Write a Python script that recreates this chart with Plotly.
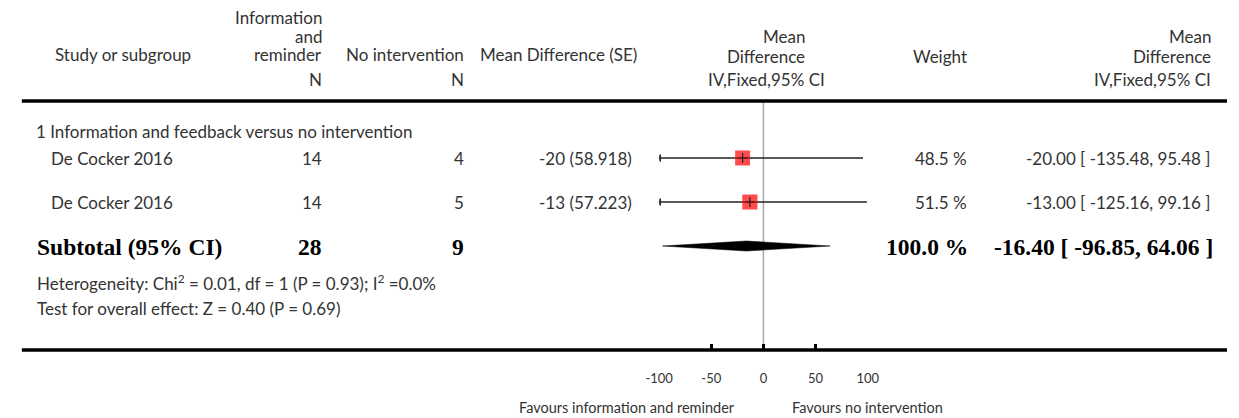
import plotly.graph_objects as go

# ---------------- data ----------------
subgroup_title = "1 Information and feedback versus no intervention"
studies = ["De Cocker 2016", "De Cocker 2016"]
n_treat = [14, 14]
n_ctrl = [4, 5]
md = [-20, -13]
se = [58.918, 57.223]
ci_lo = [-135.48, -125.16]
ci_hi = [95.48, 99.16]
weights = [48.5, 51.5]

sub_n_treat = 28
sub_n_ctrl = 9
sub_md = -16.40
sub_lo = -96.85
sub_hi = 64.06
sub_weight = 100.0

heterogeneity = "Heterogeneity: Chi<sup>2</sup> = 0.01, df = 1 (P = 0.93); I<sup>2</sup> =0.0%"
overall = "Test for overall effect: Z = 0.40 (P = 0.69)"

tick_vals = [-100, -50, 0, 50, 100]
tick_text = ["-100", "-50", "0", "50", "100"]
x_range = [-100, 100]
favours_left = "Favours information and reminder"
favours_right = "Favours no intervention"

# ---------------- layout constants ----------------
W, H = 1239, 418
SANS = "Lato, 'Open Sans', sans-serif"
SERIF = "'Liberation Serif', 'Times New Roman', serif"
TXT = "#333333"
FS = 17

PLOT_L, PLOT_R = 659, 872
ROW_Y = [158, 202]
SUB_Y = 246
TOP_LINE_Y = 101
AXIS_Y = 350


def px(x):
    return x / W


def py(y):
    return 1 - y / H


fig = go.Figure()
annotations = []


def txt(text, x, y, anchor="left", size=FS, family=SANS, bold=False, color=TXT):
    annotations.append(dict(
        text=f"<b>{text}</b>" if bold else text,
        x=px(x), y=py(y), xref="paper", yref="paper",
        xanchor=anchor, yanchor="middle", showarrow=False,
        font=dict(family=family, size=size, color=color),
    ))


# header
txt("Study or subgroup", 40, 55)
txt("Information", 317, 17, "right")
txt("and", 317, 36, "right")
txt("reminder", 317, 55, "right")
txt("No intervention", 462, 55, "right")
txt("N", 317, 79, "right")
txt("N", 462, 79, "right")
txt("Mean Difference (SE)", 638, 55, "right")
txt("Mean", 810, 37, "right")
txt("Difference", 810, 57, "right")
txt("IV,Fixed,95% CI", 830, 79, "right")
txt("Weight", 975, 57, "right")
txt("Mean", 1225, 37, "right")
txt("Difference", 1225, 57, "right")
txt("IV,Fixed,95% CI", 1225, 79, "right")

# subgroup
txt(subgroup_title, 20, 131)
for i, name in enumerate(studies):
    y = ROW_Y[i]
    txt(name, 36, y)
    txt(str(n_treat[i]), 317, y, "right")
    txt(str(n_ctrl[i]), 462, y, "right")
    txt(f"{md[i]} ({se[i]:.3f})", 633, y, "right")
    txt(f"{weights[i]:.1f} %", 975, y, "right")
    txt(f"{md[i]:.2f} [ {ci_lo[i]:.2f}, {ci_hi[i]:.2f} ]", 1225, y, "right")

# subtotal
SUB_FS = 23.5
txt("Subtotal (95% CI)", 21, SUB_Y + 1, size=SUB_FS, family=SERIF, bold=True, color="black")
txt(str(sub_n_treat), 317, SUB_Y + 1, "right", size=SUB_FS, family=SERIF, bold=True, color="black")
txt(str(sub_n_ctrl), 462, SUB_Y + 1, "right", size=SUB_FS, family=SERIF, bold=True, color="black")
txt(f"{sub_weight:.1f} %", 976, SUB_Y + 1, "right", size=SUB_FS, family=SERIF, bold=True, color="black")
txt(f"{sub_md:.2f} [ {sub_lo:.2f}, {sub_hi:.2f} ]", 1227, SUB_Y + 1, "right", size=SUB_FS,
    family=SERIF, bold=True, color="black")
txt(heterogeneity, 21, 282)
txt(overall, 21, 308)

# favours
txt(favours_left, 739, 407, "right", size=14.5)
txt(favours_right, 793, 407, "left", size=14.5)

# ---------------- marks ----------------
for i in range(len(studies)):
    lo = max(ci_lo[i], x_range[0])
    hi = min(ci_hi[i], x_range[1])
    fig.add_trace(go.Scatter(x=[lo, hi], y=[ROW_Y[i], ROW_Y[i]], mode="lines",
                             line=dict(color="#222222", width=1.5), hoverinfo="skip",
                             showlegend=False))
    if ci_lo[i] < x_range[0]:
        fig.add_trace(go.Scatter(x=[x_range[0]], y=[ROW_Y[i]], mode="markers",
                                 marker=dict(symbol="triangle-left", size=7, color="#222222"),
                                 showlegend=False, hoverinfo="skip"))
    if ci_hi[i] > x_range[1]:
        fig.add_trace(go.Scatter(x=[x_range[1]], y=[ROW_Y[i]], mode="markers",
                                 marker=dict(symbol="triangle-right", size=7, color="#222222"),
                                 showlegend=False, hoverinfo="skip"))

sizes = [10 + w * 0.1 for w in weights]
fig.add_trace(go.Scatter(x=md, y=ROW_Y, mode="markers",
                         marker=dict(symbol="square", size=sizes, color="#ff0000",
                                     line=dict(width=0)),
                         showlegend=False, hoverinfo="skip"))
fig.add_trace(go.Scatter(x=md, y=ROW_Y, mode="markers",
                         marker=dict(symbol="cross-thin", size=7,
                                     line=dict(color="#222222", width=1.2)),
                         showlegend=False, hoverinfo="skip"))

fig.add_trace(go.Scatter(x=[sub_lo, sub_md, sub_hi, sub_md, sub_lo],
                         y=[SUB_Y, SUB_Y - 5, SUB_Y, SUB_Y + 5, SUB_Y],
                         mode="lines", fill="toself", fillcolor="black",
                         line=dict(color="black", width=0.5), showlegend=False,
                         hoverinfo="skip"))

# ---------------- shapes ----------------
shapes = [
    dict(type="line", xref="paper", yref="paper", x0=px(8), x1=1, y0=py(TOP_LINE_Y),
         y1=py(TOP_LINE_Y), line=dict(color="black", width=3.5)),
    dict(type="line", xref="paper", yref="paper", x0=px(8), x1=1, y0=py(AXIS_Y),
         y1=py(AXIS_Y), line=dict(color="black", width=3.5)),
    dict(type="line", xref="x", yref="y", x0=0, x1=0, y0=TOP_LINE_Y, y1=AXIS_Y,
         line=dict(color="#aaaaaa", width=1.5), layer="below"),
]

fig.update_layout(
    width=W, height=H,
    margin=dict(l=0, r=0, t=0, b=0),
    paper_bgcolor="white", plot_bgcolor="rgba(0,0,0,0)",
    showlegend=False,
    annotations=annotations,
    shapes=shapes,
    xaxis=dict(domain=[px(PLOT_L), px(PLOT_R)], range=x_range, anchor="free",
               position=py(AXIS_Y), showgrid=False, zeroline=False, showline=False,
               ticks="inside", ticklen=6, tickwidth=3, tickcolor="black",
               tickvals=tick_vals, ticktext=tick_text, ticklabelstandoff=19,
               tickfont=dict(family=SANS, size=13, color=TXT), fixedrange=True),
    yaxis=dict(domain=[0, 1], range=[H, 0], visible=False, fixedrange=True),
)

fig.write_html("out.html", config={"displayModeBar": False},
               post_script="document.body.style.margin='0';document.body.style.overflow='hidden';")
